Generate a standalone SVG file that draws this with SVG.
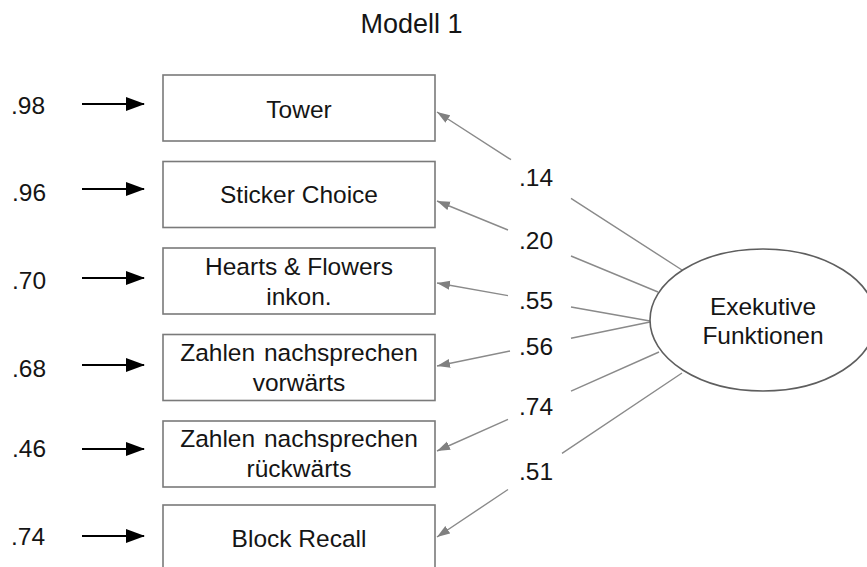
<svg xmlns="http://www.w3.org/2000/svg" width="867" height="567" viewBox="0 0 867 567">
<style>
text{font-family:"Liberation Sans",Arial,sans-serif;fill:#151515;font-size:24.5px}
.c{text-anchor:middle}
.box{fill:#fff;stroke:#7a7a7a;stroke-width:1.6}
.err{stroke:#000;stroke-width:2;fill:none;marker-end:url(#ah)}
.ld{stroke:#8a8a8a;stroke-width:1.4;fill:none;marker-end:url(#ag)}
</style>
<defs>
<marker id="ah" markerUnits="userSpaceOnUse" markerWidth="20" markerHeight="14" refX="18" refY="7" orient="auto" viewBox="0 0 20 14">
<path d="M0,0 L19,7 L0,14 Z" fill="#000"/>
</marker>
<marker id="ag" markerUnits="userSpaceOnUse" markerWidth="14" markerHeight="10" refX="13" refY="4.5" orient="auto" viewBox="0 0 14 9">
<path d="M0,0 L13,4.5 L0,9 Z" fill="#808080"/>
</marker>
</defs>
<rect width="867" height="567" fill="#fff"/>
<text class="c" x="411.5" y="33" style="font-size:27px">Modell 1</text>
<g id="errors">
<text x="11" y="114">.98</text>
<text x="12" y="201">.96</text>
<text x="12" y="289">.70</text>
<text x="12" y="377">.68</text>
<text x="12" y="457">.46</text>
<text x="11" y="545">.74</text>
</g>
<g id="connectors">
<path class="err" d="M82,104 L144,104"/>
<path class="err" d="M82,189 L144,189"/>
<path class="err" d="M82,278 L144,278"/>
<path class="err" d="M82,365 L144,365"/>
<path class="err" d="M82,449 L144,449"/>
<path class="err" d="M82,536 L144,536"/>
<path class="ld" d="M682,270 L571,198.4 M511,159.7 L437,112"/>
<path class="ld" d="M658,292 L571,256 M508,230 L437,201"/>
<path class="ld" d="M650,321 L571,307 M508,295.6 L437,283"/>
<path class="ld" d="M650,322 L571,338.3 M510,351 L437,366"/>
<path class="ld" d="M659,352 L571,391.2 M508,419.3 L437,451"/>
<path class="ld" d="M682,373 L562,453.4 M508,489.5 L437,537"/>
<text x="519" y="186">.14</text>
<text x="519" y="249">.20</text>
<text x="519" y="309">.55</text>
<text x="519" y="355">.56</text>
<text x="519" y="415">.74</text>
<text x="519" y="480">.51</text>
</g>
<g id="tower"><rect class="box" x="163" y="75" width="272" height="66"/><text class="c" x="299" y="118">Tower</text></g>
<g id="sticker"><rect class="box" x="163" y="161.5" width="272" height="66"/><text class="c" x="299" y="202.5">Sticker Choice</text></g>
<g id="hearts"><rect class="box" x="163" y="248" width="272" height="66"/><text class="c" x="299" y="275">Hearts &amp; Flowers</text><text class="c" x="299" y="305">inkon.</text></g>
<g id="zahlen-v"><rect class="box" x="163" y="334.5" width="272" height="66"/><text class="c" x="299" y="361" word-spacing="2">Zahlen nachsprechen</text><text class="c" x="299" y="391">vorwärts</text></g>
<g id="zahlen-r"><rect class="box" x="163" y="421" width="272" height="66"/><text class="c" x="299" y="447" word-spacing="2">Zahlen nachsprechen</text><text class="c" x="299" y="477">rückwärts</text></g>
<g id="block"><rect class="box" x="163" y="505" width="272" height="66"/><text class="c" x="299" y="547">Block Recall</text></g>
<g id="ef"><ellipse cx="763" cy="320" rx="113" ry="71" fill="#fff" stroke="#5e5e5e" stroke-width="1.6"/><text class="c" x="763" y="315">Exekutive</text><text class="c" x="763" y="344">Funktionen</text></g>
</svg>
